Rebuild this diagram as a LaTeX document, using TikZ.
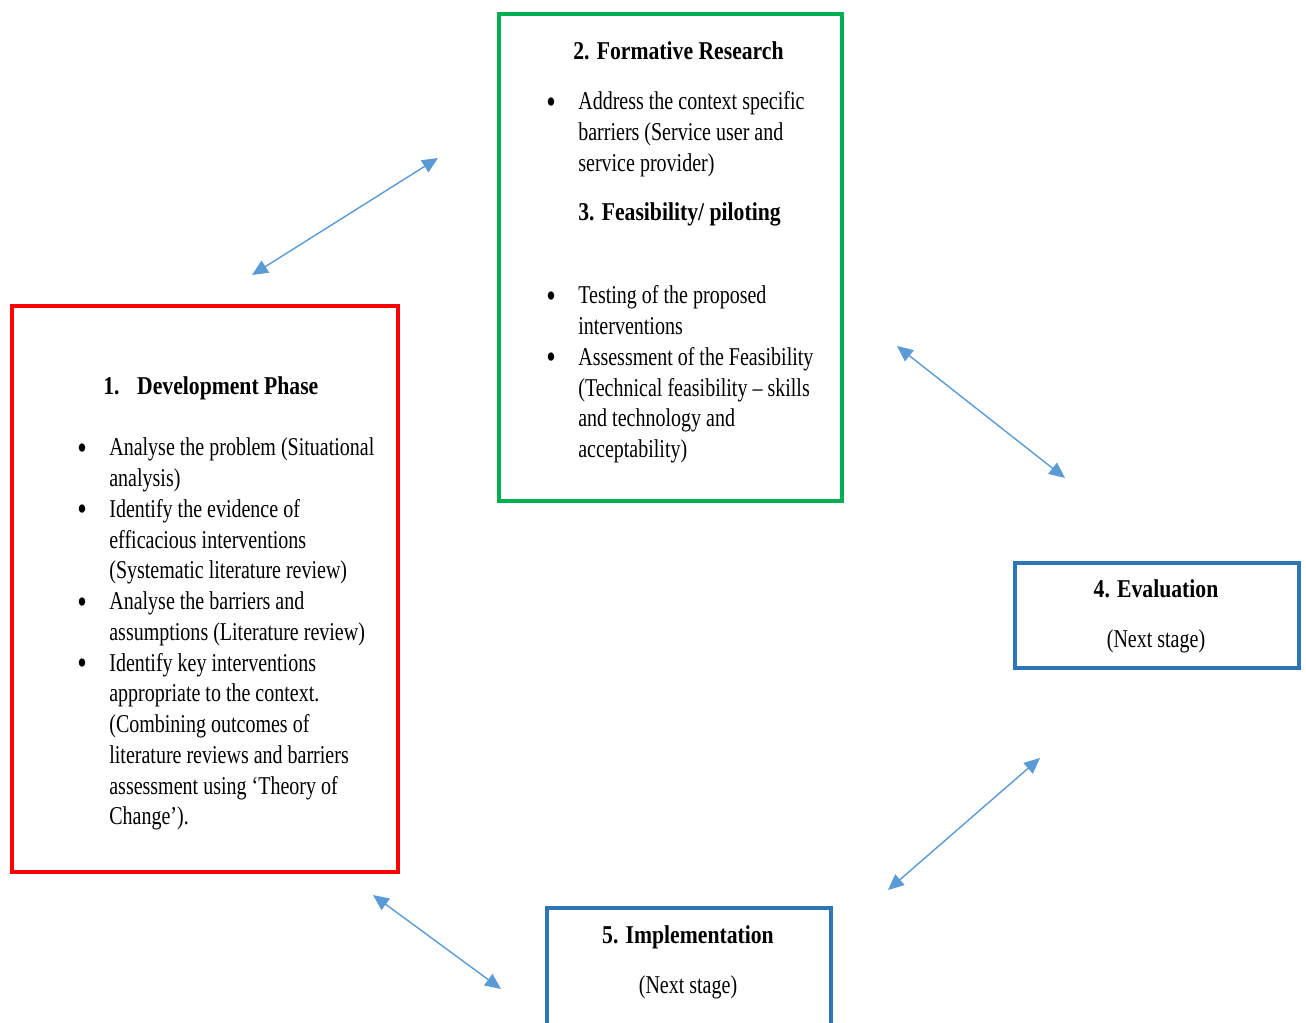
\documentclass[tikz,border=0pt]{standalone}
\usepackage{fontspec}
\setmainfont{Liberation Serif}[FakeStretch=0.78, BoldFeatures={FakeStretch=0.845}]
\usetikzlibrary{arrows.meta}

\definecolor{boxred}{HTML}{FF0000}
\definecolor{boxgreen}{HTML}{00B050}
\definecolor{boxblue}{HTML}{2E75B6}
\definecolor{linkblue}{HTML}{5B9BD5}

\newcommand{\bpt}{\raisebox{-0.13em}{\scalebox{1.35}{\textbullet}}}

\begin{document}
\begin{tikzpicture}[x=0.02cm, y=-0.02cm,
    >={Triangle[length=9pt,width=8pt]},
    txt/.style={inner sep=0pt, anchor=base west, font=\fontsize{14.6}{17.5}\selectfont},
    ttl/.style={txt, font=\fontsize{14.6}{17.5}\selectfont\bfseries},
    frame/.style={line width=2.2pt},
    link/.style={<->, linkblue, line width=0.8pt}]
    % 0. Khung trang
    \useasboundingbox (0,0) rectangle (1306,1023);
    \clip (0,0) rectangle (1306,1023);

    % 1. Cac khung
    \draw[frame, boxred] (12,306) rectangle (398,872);
    \draw[frame, boxgreen] (499,14) rectangle (842,501);
    \draw[frame, boxblue] (1015,563) rectangle (1299,668);
    \draw[frame, boxblue] (547,908) rectangle (831,1060);

    % 2. Development Phase
    \node[ttl] (dev) at (103,395) {1.\hspace{10pt}Development Phase};
    \node[txt] (devlist) at (77,456) {\begin{tabular}[t]{@{}p{0.64cm}@{}l@{}}
        \bpt & Analyse the problem (Situational\\
             & analysis)\\
        \bpt & Identify the evidence of\\
             & efficacious interventions\\
             & (Systematic literature review)\\
        \bpt & Analyse the barriers and\\
             & assumptions (Literature review)\\
        \bpt & Identify key interventions\\
             & appropriate to the context.\\
             & (Combining outcomes of\\
             & literature reviews and barriers\\
             & assessment using ‘Theory of\\
             & Change’).
    \end{tabular}};

    % 3. Formative Research / Feasibility
    \node[ttl] (form) at (573,60) {2. Formative Research};
    \node[txt] (formlist) at (546,110) {\begin{tabular}[t]{@{}p{0.64cm}@{}l@{}}
        \bpt & Address the context specific\\
             & barriers (Service user and\\
             & service provider)
    \end{tabular}};
    \node[ttl] (feas) at (578,221) {3. Feasibility/ piloting};
    \node[txt] (feaslist) at (546,304) {\begin{tabular}[t]{@{}p{0.64cm}@{}l@{}}
        \bpt & Testing of the proposed\\
             & interventions\\
        \bpt & Assessment of the Feasibility\\
             & (Technical feasibility -- skills\\
             & and technology and\\
             & acceptability)
    \end{tabular}};

    % 4. Evaluation
    \node[ttl, anchor=base] (eval) at (1156,598) {4. Evaluation};
    \node[txt, anchor=base] (evalnext) at (1156,648) {(Next stage)};

    % 5. Implementation
    \node[ttl, anchor=base] (impl) at (688,943) {5. Implementation};
    \node[txt, anchor=base] (implnext) at (688,993) {(Next stage)};

    % 6. Mui ten hai chieu
    \coordinate (a1) at (252,275);
    \coordinate (b1) at (438,158);
    \coordinate (a2) at (897,346);
    \coordinate (b2) at (1065,478);
    \coordinate (a3) at (1040,758);
    \coordinate (b3) at (888,890);
    \coordinate (a4) at (373,895);
    \coordinate (b4) at (501,989);
    \draw[link] (a1) -- (b1);
    \draw[link] (a2) -- (b2);
    \draw[link] (a3) -- (b3);
    \draw[link] (a4) -- (b4);
\end{tikzpicture}
\end{document}
